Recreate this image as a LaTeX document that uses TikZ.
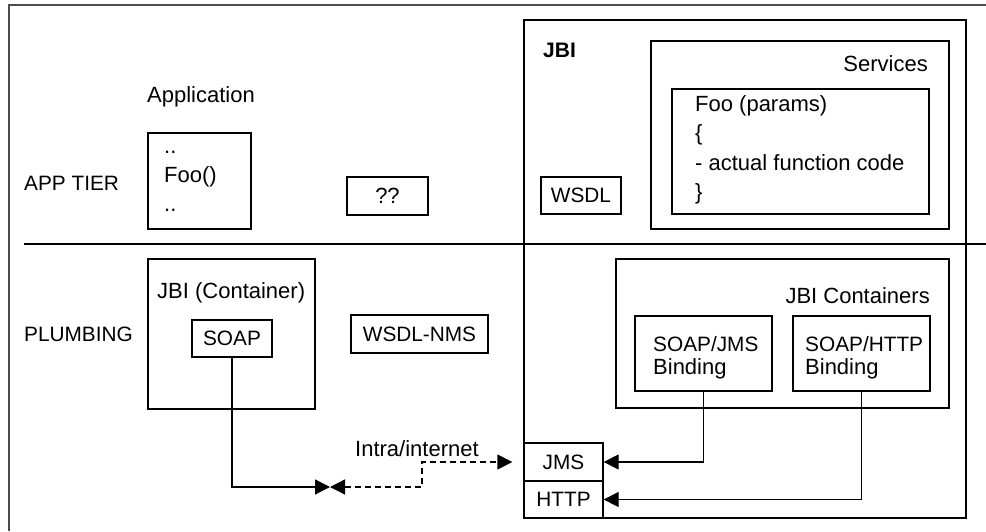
\documentclass[tikz,border=0pt]{standalone}
\usepackage{fontspec}
\setmainfont{Liberation Sans}
\usetikzlibrary{arrows.meta}
\begin{document}
\begin{tikzpicture}[x=1pt,y=-1pt,
  >={Triangle[length=15pt,width=15pt]},
  every node/.style={font=\fontsize{22}{29}\selectfont},
  caps/.style={font=\fontsize{20.8}{29}\selectfont},
  box/.style={draw, line width=1.3pt, inner sep=0pt},
  lbl/.style={anchor=base west, inner sep=0pt},
  rlbl/.style={anchor=base east, inner sep=0pt},
  link/.style={line width=1.3pt, ->},
  frameline/.style={draw=black!70, line width=2.5pt}]
\useasboundingbox (0,0) rectangle (986,531);

% outer frame and tier divider
\draw[frameline] (9,531) -- (9,5) -- (986,5);
\draw[line width=1.3pt] (24,244) -- (986,244);

% tier labels
\node[lbl, caps] (apptier) at (24,190) {APP TIER};
\node[lbl, caps] (plumbing) at (24,341) {PLUMBING};

% application side
\node[lbl] (applbl) at (147,102) {Application};
\node[box, minimum width=103pt, minimum height=96pt] (app) at (199.5,181) {};
\node[lbl] (dots1) at (164,153) {..};
\node[lbl] (foocall) at (164,182) {Foo()};
\node[lbl] (dots2) at (164,211) {..};
\node[box, minimum width=81pt, minimum height=38pt] (qq) at (387.5,196) {??};

\node[box, minimum width=167pt, minimum height=150pt] (cont) at (231.5,334) {};
\node[lbl] (contlbl) at (157,298) {JBI (Container)};
\node[box, caps, minimum width=80pt, minimum height=37pt] (soap) at (232,338.5) {SOAP};
\node[box, caps, minimum width=137pt, minimum height=38pt] (wsdlnms) at (419.5,334) {WSDL-NMS};

% JBI side
\node[box, minimum width=442pt, minimum height=498pt] (jbi) at (745,269) {};
\node[lbl, font=\fontsize{21}{29}\selectfont\bfseries] (jbilbl) at (543,57) {JBI};
\node[box, minimum width=298pt, minimum height=188pt] (services) at (800,135) {};
\node[rlbl] (servlbl) at (928,71) {Services};
\node[box, minimum width=257pt, minimum height=125pt] (foo) at (800.5,151.5) {};
\node[lbl] (foo1) at (695,111) {Foo (params)};
\node[lbl] (foo2) at (695,140.5) {\{};
\node[lbl] (foo3) at (695,170) {- actual function code};
\node[lbl] (foo4) at (695,199.5) {\}};
\node[box, caps, minimum width=80pt, minimum height=37pt] (wsdl) at (581,195.5) {WSDL};

\node[box, minimum width=333pt, minimum height=149pt] (jbic) at (782.5,333.5) {};
\node[rlbl] (jbiclbl) at (930,303) {JBI Containers};
\node[box, minimum width=137pt, minimum height=75pt] (sj) at (703.5,353.5) {};
\node[lbl, caps] (sj1) at (653,351) {SOAP/JMS};
\node[lbl] (sj2) at (653,374) {Binding};
\node[box, minimum width=137pt, minimum height=75pt] (sh) at (861.5,353.5) {};
\node[lbl, caps] (sh1) at (805,351) {SOAP/HTTP};
\node[lbl] (sh2) at (805,374) {Binding};

\node[box, caps, minimum width=79pt, minimum height=38pt] (jms) at (563.5,462) {JMS};
\node[box, caps, minimum width=79pt, minimum height=37pt] (http) at (563.5,499.5) {HTTP};

% connectors
\coordinate (meet) at (330,487);
\coordinate (kink) at (422,487);
\node[lbl] (net) at (355,456) {Intra/internet};
\draw[link] (soap.south) |- (meet);
\draw[line width=1.3pt, dash pattern=on 6pt off 4pt, <->,
      shorten >=11pt] (meet) -- (kink) |- (jms.west);
\draw[link] (sj.south) |- (jms.east);
\draw[link] (sh.south) |- (http.east);
\end{tikzpicture}
\end{document}
